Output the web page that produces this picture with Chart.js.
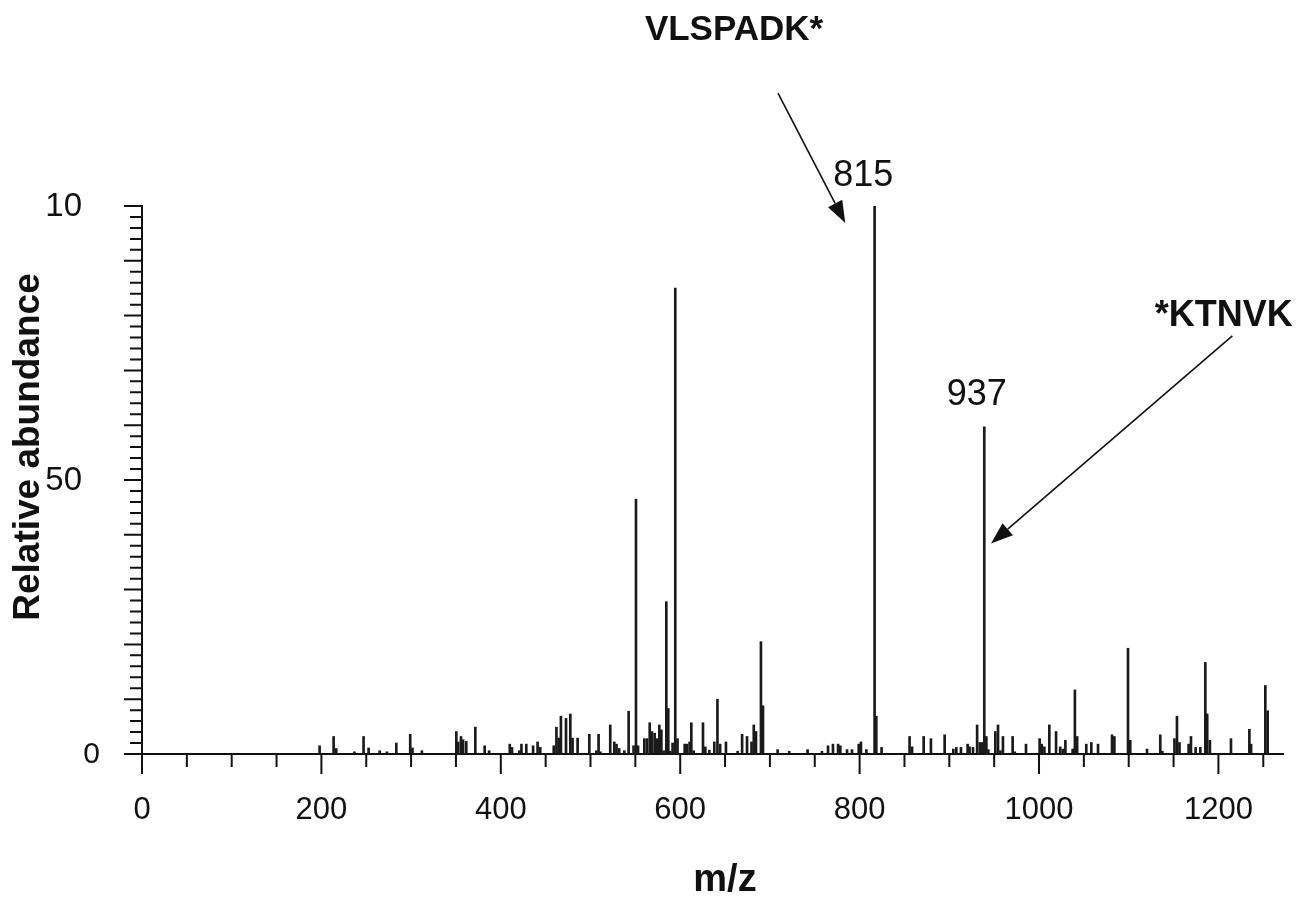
<!DOCTYPE html>
<html>
<head>
<meta charset="utf-8">
<script src="https://cdn.jsdelivr.net/npm/chart.js@4/dist/chart.umd.min.js"></script>
<style>
  html, body { margin: 0; padding: 0; background: #fff; }
  #wrap { width: 1304px; height: 907px; position: relative; }
</style>
</head>
<body>
<div id="wrap"><canvas id="chart"></canvas></div>
<script>
// m/z positions of the peaks and their relative abundance
const mz = [
  198, 213.6, 216.5, 236.7, 247, 252.6, 265, 273, 283.5, 299, 301.5, 312,
  350.4, 352.5, 355.6, 358, 361.5, 371.6, 382, 387,
  410, 412.5, 420.6, 423, 428.4, 436, 441, 444,
  459, 462, 464.5, 467, 472.7, 477.5, 480, 485.6, 498.7, 506.5, 509, 511,
  522, 526.5, 529, 532, 537.7, 542.5, 548, 550.7, 553,
  560, 563, 566, 568.5, 571.5, 574, 576.7, 579, 581.5, 584.5, 586.7, 589, 591.5, 594.5, 597,
  605, 607.5, 610.5, 612.4, 615, 625.4, 628, 632.5, 638, 641.5, 644.5, 651,
  664, 669, 674.5, 679.5, 682, 684.5, 690, 692.3, 708.6, 721.5, 742, 758,
  764.8, 770.3, 776, 778.5, 786, 791.5, 799, 801.5, 807.5, 816.7, 818.6, 824.5,
  855.7, 858.5, 871.4, 879.5, 894.8, 904.5, 907.8, 913, 920.4, 922.6, 926.4,
  931, 934, 936.6, 939, 941.3, 943.5, 951.3, 954.3, 957, 959.8, 970.6, 973, 985.5,
  1000.7, 1003, 1006, 1011.5, 1019, 1023.6, 1026.5, 1029.4, 1037.5, 1040, 1042.5,
  1052.7, 1058.3, 1065.8, 1081.4, 1084, 1099.2, 1101.7, 1120.4, 1135.2, 1137.5,
  1151, 1153.8, 1156.6, 1166.8, 1169.4, 1174.6, 1179.8, 1185.4, 1187.5, 1190.5,
  1214, 1234.5, 1236.4, 1252.3, 1254.9
];
const abundance = [
  1.5, 3.2, 1.0, 0.4, 3.2, 1.1, 0.6, 0.4, 2.0, 3.6, 1.1, 0.6,
  4.1, 2.2, 3.2, 2.6, 2.3, 4.9, 1.5, 0.6,
  1.8, 1.2, 0.6, 1.8, 1.8, 1.5, 2.2, 1.2,
  1.5, 4.9, 2.9, 6.9, 6.5, 7.3, 2.9, 2.9, 3.6, 0.6, 3.6, 0.4,
  5.3, 2.2, 1.8, 1.0, 0.6, 7.8, 1.5, 46.5, 1.5,
  2.8, 2.8, 5.7, 4.1, 3.8, 2.8, 5.3, 4.4, 0.6, 27.8, 8.3, 0.5, 2.0, 85, 2.8,
  1.8, 1.8, 2.2, 5.7, 0.6, 5.7, 1.3, 0.7, 2.2, 10, 1.8, 2.2,
  0.5, 3.6, 3.2, 2.2, 5.3, 4.1, 20.5, 8.8, 0.8, 0.5, 0.8, 0.5,
  1.5, 1.8, 1.8, 1.5, 0.8, 0.8, 1.8, 2.2, 0.8, 100, 6.9, 1.2,
  3.2, 1.3, 3.2, 2.8, 3.5, 0.9, 1.2, 1.2, 1.8, 1.3, 1.2,
  5.3, 2.1, 2.1, 59.7, 3.2, 0.8, 4.1, 5.3, 0.6, 3.2, 3.2, 0.4, 1.8,
  2.8, 1.8, 1.3, 5.3, 4.1, 1.3, 0.9, 2.5, 0.9, 11.7, 3.2,
  1.8, 2.1, 1.8, 3.5, 3.2, 19.3, 2.5, 0.9, 3.5, 0.5,
  2.8, 6.9, 2.1, 1.8, 3.2, 1.2, 1.2, 16.7, 7.3, 2.5,
  2.8, 4.5, 1.8, 12.5, 7.9
];

// tick labels (the top label reads "10" in the original figure)
const yTickValues = [0, 50, 100];
const yTickLabels = ["0", "50", "10"];
const xTickLabels = [0, 200, 400, 600, 800, 1000, 1200];

// annotations, placed in data units (m/z, abundance)
const peakLabels = [
  { text: "815", x: 804, y: 105.5 },
  { text: "937", x: 930.6, y: 65.5 }
];
const peptideLabels = [
  { text: "VLSPADK*", x: 660, y: 132, from: [709, 120.6], to: [784, 96.9] },
  { text: "*KTNVK", x: 1129, y: 79.9, align: "left", from: [1215.5, 76.3], to: [946.5, 38.4] }
];

const FONT = "'Liberation Sans', Arial, Helvetica, sans-serif";
const INK = "#111";

const axisTicks = {
  id: "axisTicks",
  afterDraw(chart) {
    const ctx = chart.ctx;
    const xs = chart.scales.x, ys = chart.scales.y;
    const area = chart.chartArea;
    ctx.save();
    ctx.strokeStyle = INK;
    ctx.fillStyle = INK;
    ctx.lineWidth = 2;
    ctx.beginPath();
    for (let v = 0; v <= 100; v += 2) {
      const py = ys.getPixelForValue(v);
      const len = v % 10 === 0 ? 18 : 12;
      ctx.moveTo(area.left - len, py);
      ctx.lineTo(area.left, py);
    }
    for (let v = 0; v <= 1250; v += 50) {
      const px = xs.getPixelForValue(v);
      const len = v % 200 === 0 ? 20 : 13;
      ctx.moveTo(px, area.bottom);
      ctx.lineTo(px, area.bottom + len);
    }
    ctx.stroke();

    // y tick labels
    ctx.textBaseline = "middle";
    ctx.textAlign = "right";
    yTickValues.forEach((v, i) => {
      const right = v === 0 ? area.left - 42 : area.left - 60;
      ctx.font = (v === 0 ? "30px " : "33px ") + FONT;
      ctx.fillText(yTickLabels[i], right, ys.getPixelForValue(v) + 1);
    });

    // axis titles
    ctx.textAlign = "center";
    ctx.font = "bold 38px " + FONT;
    ctx.fillText("m/z", 725, 881);
    ctx.save();
    ctx.translate(39, 447);
    ctx.rotate(-Math.PI / 2);
    ctx.textBaseline = "alphabetic";
    ctx.font = "bold 37px " + FONT;
    ctx.fillText("Relative abundance", 0, 0);
    ctx.restore();

    // peak labels
    ctx.textAlign = "center";
    ctx.font = "36px " + FONT;
    peakLabels.forEach((p) => {
      ctx.fillText(p.text, xs.getPixelForValue(p.x), ys.getPixelForValue(p.y));
    });

    // peptide labels with arrows
    peptideLabels.forEach((p) => {
      ctx.textAlign = p.align || "center";
      ctx.font = (p.align ? "bold 36px " : "bold 35px ") + FONT;
      ctx.fillText(p.text, xs.getPixelForValue(p.x), ys.getPixelForValue(p.y));
      const x1 = xs.getPixelForValue(p.from[0]), y1 = ys.getPixelForValue(p.from[1]);
      const x2 = xs.getPixelForValue(p.to[0]), y2 = ys.getPixelForValue(p.to[1]);
      const a = Math.atan2(y2 - y1, x2 - x1);
      const head = 22, half = 8;
      const bx = x2 - head * Math.cos(a), by = y2 - head * Math.sin(a);
      ctx.lineWidth = 1.6;
      ctx.beginPath();
      ctx.moveTo(x1, y1);
      ctx.lineTo(bx, by);
      ctx.stroke();
      ctx.beginPath();
      ctx.moveTo(x2, y2);
      ctx.lineTo(bx + half * Math.sin(a), by - half * Math.cos(a));
      ctx.lineTo(bx - half * Math.sin(a), by + half * Math.cos(a));
      ctx.closePath();
      ctx.fill();
    });
    ctx.restore();
  }
};

const data = {
  datasets: [
    {
      label: "Spectrum",
      data: mz.map((m, i) => ({ x: m, y: abundance[i] })),
      backgroundColor: "#1a1a1a",
      borderWidth: 0,
      barThickness: 2,
      grouped: false
    }
  ]
};

const configChart = {
  type: "bar",
  data: data,
  options: {
    responsive: true,
    maintainAspectRatio: false,
    animation: false,
    layout: { padding: { left: 0, top: 206, right: 21, bottom: 0 } },
    plugins: { legend: { display: false }, tooltip: { enabled: false } },
    scales: {
      x: {
        type: "linear",
        min: 0,
        max: 1272,
        offset: false,
        afterFit: (s) => { s.height = 153; },
        grid: { drawOnChartArea: false, tickLength: 20, tickColor: "transparent" },
        border: { display: true, color: INK, width: 2 },
        ticks: {
          stepSize: 50,
          includeBounds: false,
          autoSkip: false,
          maxRotation: 0,
          padding: 18,
          color: INK,
          font: { family: FONT, size: 31 },
          callback: (v) => (xTickLabels.includes(v) ? String(v) : "")
        }
      },
      y: {
        min: 0,
        max: 100,
        afterFit: (s) => { s.width = 142; },
        grid: { drawOnChartArea: false, tickLength: 18, tickColor: "transparent" },
        border: { display: true, color: INK, width: 2 },
        ticks: { display: false, stepSize: 2 }
      }
    }
  },
  plugins: [axisTicks]
};

const chart = new Chart(document.getElementById("chart"), configChart);
</script>
</body>
</html>
